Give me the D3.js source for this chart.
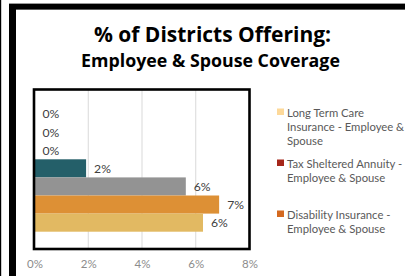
<!DOCTYPE html>
<html>
<head>
<meta charset="utf-8">
<script src="https://cdn.jsdelivr.net/npm/d3@7"></script>
<style>
  body { margin: 0; background: #fff; }
  svg { display: block; font-family: Lato, sans-serif; }
</style>
</head>
<body>
<div id="chart"></div>
<script>
// series, top to bottom as drawn
const seriesNames = ["S1", "S2", "S3", "S4", "S5", "S6", "S7"]
const seriesValues = [0, 0, 0, 1.92, 5.63, 6.87, 6.27]
const seriesColors = ["#ffffff", "#ffffff", "#ffffff", "#245f69", "#939393", "#dd9035", "#e2b962"]
const xTicks = [0, 2, 4, 6, 8]
const legendItems = [
  ["Long Term Care", "Insurance - Employee &", "Spouse"],
  ["Tax Sheltered Annuity -", "Employee & Spouse"],
  ["Disability Insurance -", "Employee & Spouse"]
]
const legendColors = ["#fdd99a", "#a5261a", "#d4691f"]

const W = 405, H = 276
const svg = d3.select("#chart").append("svg")
  .attr("width", W)
  .attr("height", H)

// frame
svg.append("rect").attr("x", 0).attr("y", 0).attr("width", 1.2).attr("height", H).attr("fill", "#000")
svg.append("rect").attr("x", 9).attr("y", 3).attr("width", W - 9).attr("height", 7).attr("fill", "#9a9a9a")
svg.append("rect").attr("x", 9).attr("y", 4).attr("width", W - 9).attr("height", 5.4).attr("fill", "#000")
svg.append("rect").attr("x", 9).attr("y", 4).attr("width", 7).attr("height", H - 4).attr("fill", "#000")

// title
svg.append("text")
  .attr("x", 212.5).attr("y", 41.5)
  .attr("text-anchor", "middle")
  .attr("font-family", "'Open Sans', sans-serif")
  .attr("font-weight", "bold")
  .attr("font-size", 21)
  .attr("fill", "#000")
  .text("% of Districts Offering:")
svg.append("text")
  .attr("x", 210.5).attr("y", 66.5)
  .attr("text-anchor", "middle")
  .attr("font-family", "'Open Sans', sans-serif")
  .attr("font-weight", "bold")
  .attr("font-size", 17.8)
  .attr("fill", "#000")
  .text("Employee & Spouse Coverage")

// scales
const x = d3.scaleLinear().domain([0, 8]).range([34.5, 249.5])
const y = d3.scaleBand().domain(seriesNames).range([105, 231.7]).padding(0)

// plot box
svg.append("rect")
  .attr("x", 34).attr("y", 89.5)
  .attr("width", 215.5).attr("height", 159.5)
  .attr("fill", "#fff")

// gridlines
svg.append("g")
  .selectAll("line")
  .data(xTicks.filter(d => d > 0 && d < 8))
  .join("line")
  .attr("x1", d => x(d)).attr("x2", d => x(d))
  .attr("y1", 90).attr("y2", 248)
  .attr("stroke", "#d9d9d9")
  .attr("stroke-width", 1)

// bars
svg.append("g")
  .selectAll("rect")
  .data(seriesNames)
  .join("rect")
  .attr("x", x(0))
  .attr("y", d => y(d))
  .attr("width", (d, i) => x(seriesValues[i]) - x(0))
  .attr("height", y.bandwidth())
  .attr("fill", (d, i) => seriesColors[i])

// data labels
svg.append("g")
  .selectAll("text")
  .data(seriesNames)
  .join("text")
  .attr("x", (d, i) => x(seriesValues[i]) + 8)
  .attr("y", d => y(d) + y.bandwidth() / 2 + 4.4)
  .attr("font-size", 12.2)
  .attr("fill", "#404040")
  .text((d, i) => Math.round(seriesValues[i]) + "%")

// box border
svg.append("rect")
  .attr("x", 34).attr("y", 89.5)
  .attr("width", 215.5).attr("height", 159.5)
  .attr("fill", "none")
  .attr("stroke", "#000")
  .attr("stroke-width", 2.6)

// x axis tick labels
const xAxis = d3.axisBottom(x).tickValues(xTicks).tickSize(0).tickPadding(0)
  .tickFormat(d => d + "%")
const ax = svg.append("g").attr("transform", "translate(0,260)").call(xAxis)
ax.select(".domain").remove()
ax.selectAll("text")
  .attr("font-family", "Lato, sans-serif")
  .attr("font-size", 11.5)
  .attr("fill", "#8c8c8c")
  .attr("dy", "0.71em")

// legend
const lg = svg.append("g")
legendItems.forEach((lines, i) => {
  const by = 116.5 + i * 51
  lg.append("rect")
    .attr("x", 277).attr("y", by - 8)
    .attr("width", 7).attr("height", 6.5)
    .attr("fill", legendColors[i])
  lines.forEach((t, j) => {
    lg.append("text")
      .attr("x", 287).attr("y", by + j * 14)
      .attr("font-size", 11.3)
      .attr("fill", "#595959")
      .text(t)
  })
})
</script>
</body>
</html>
